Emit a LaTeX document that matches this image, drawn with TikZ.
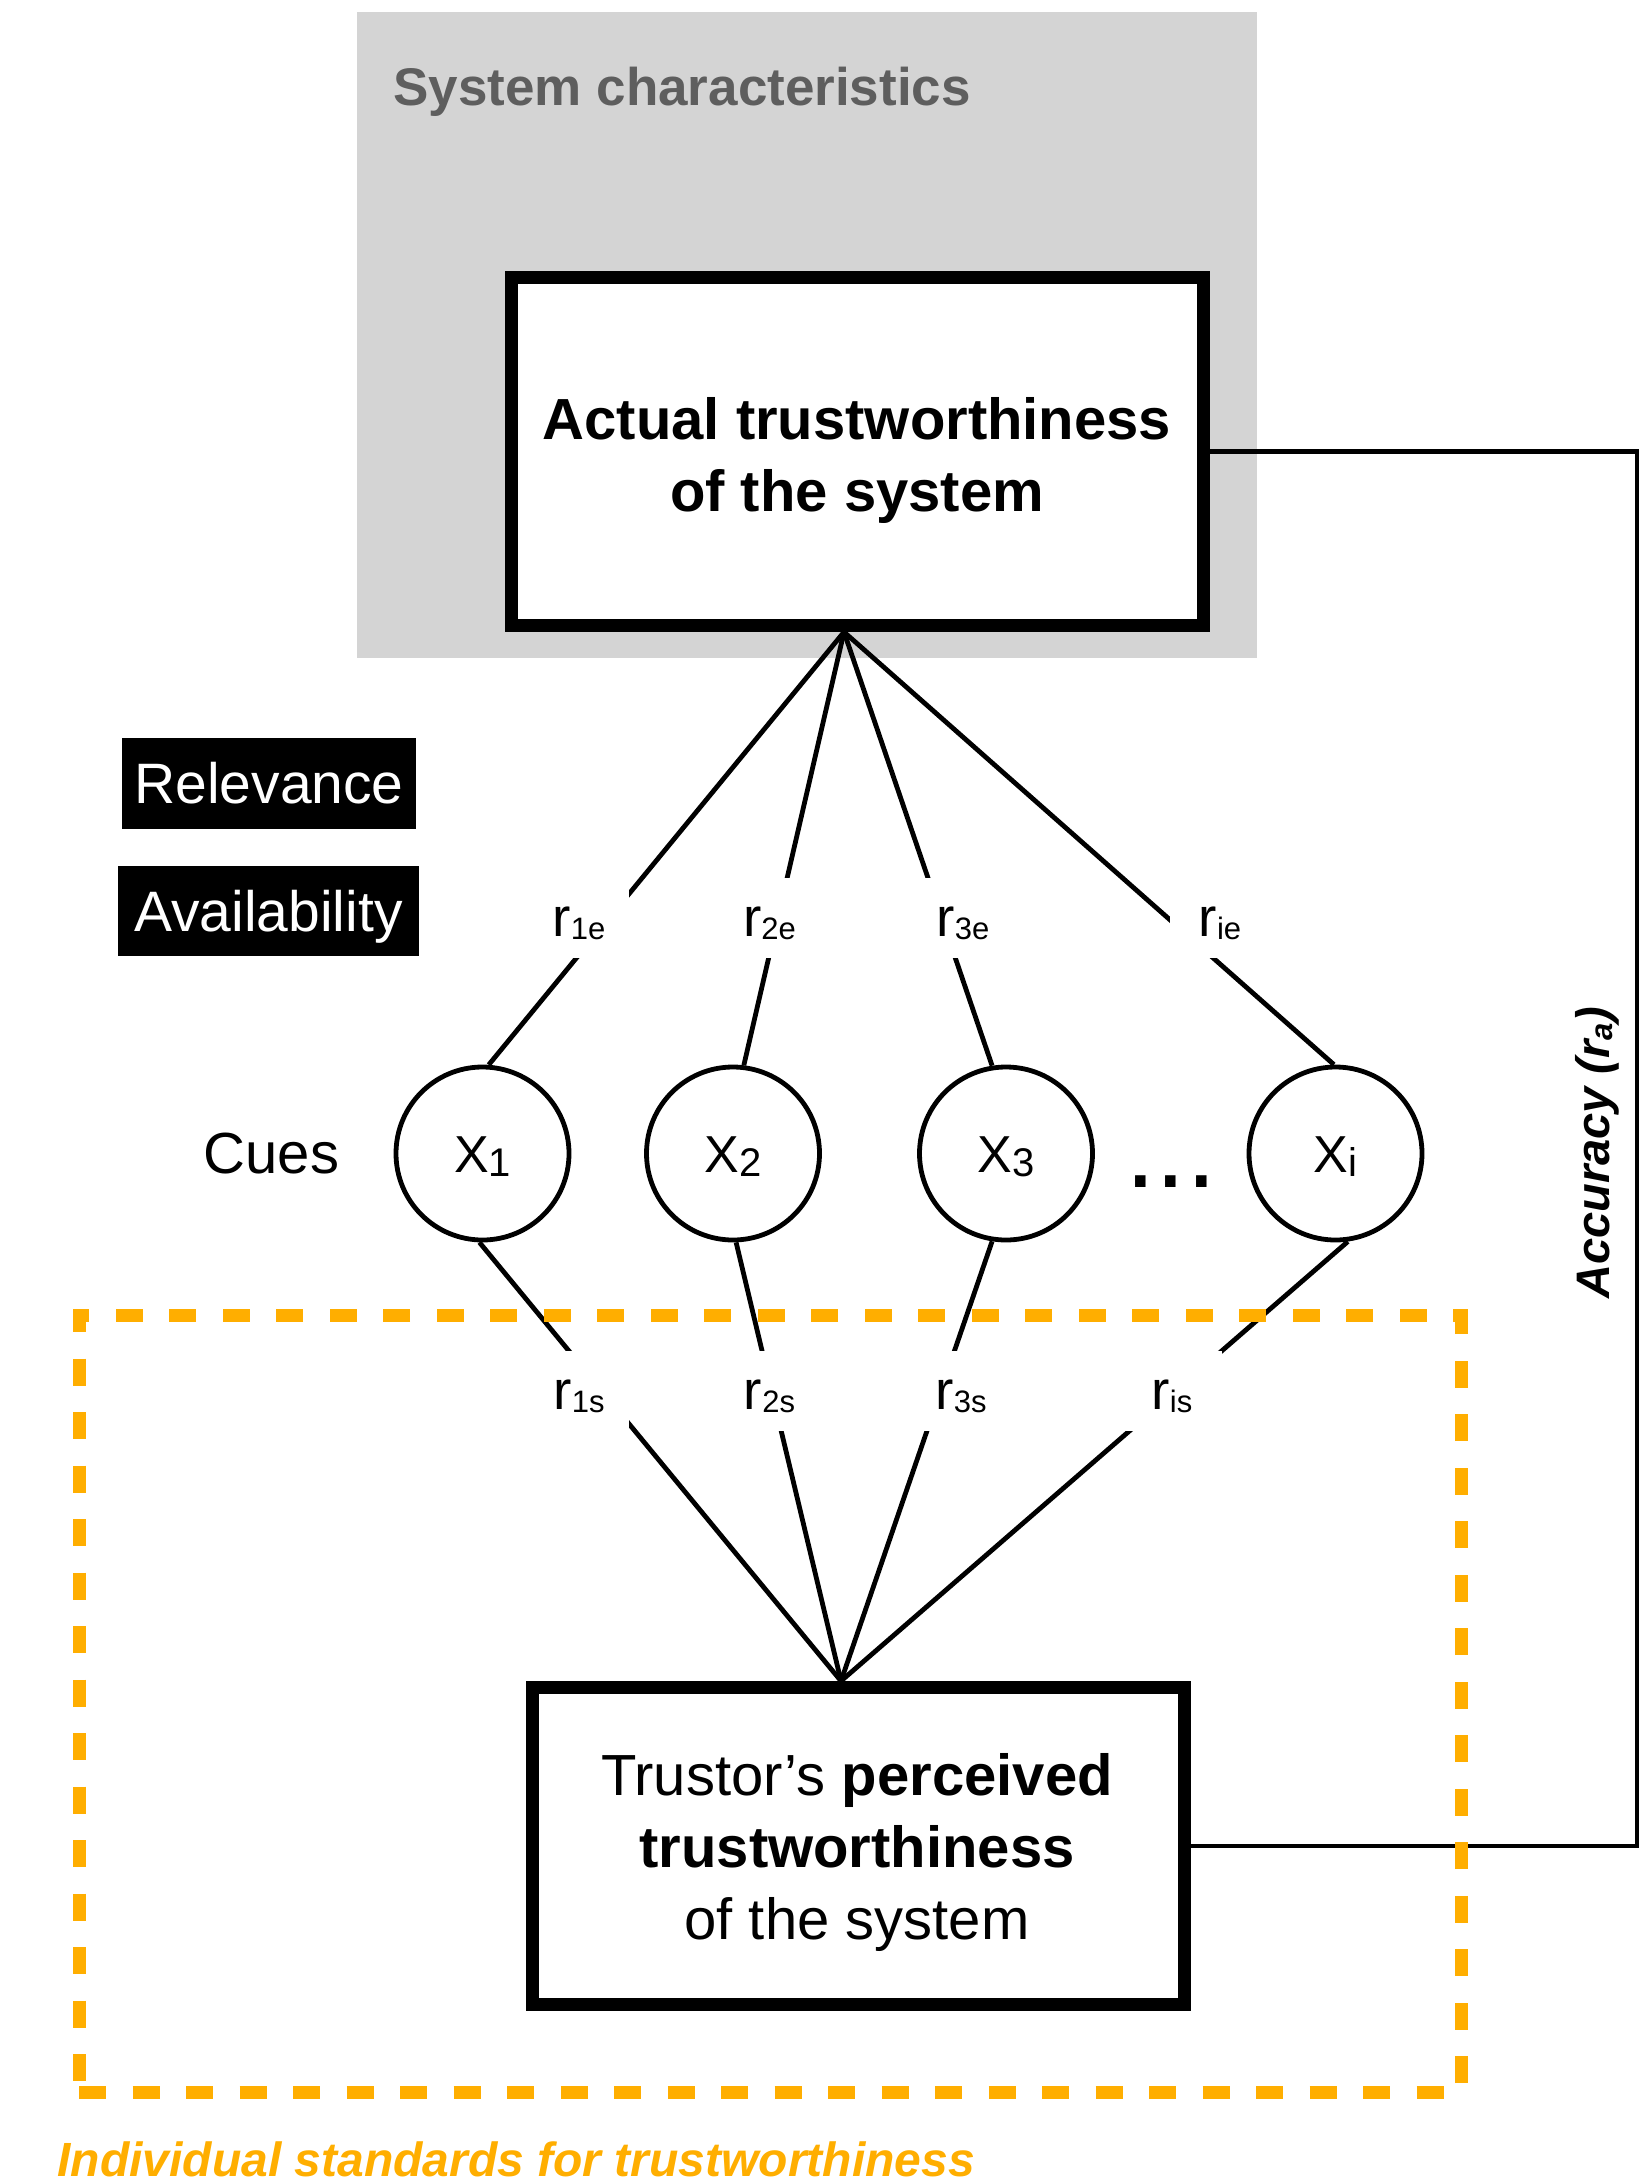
\documentclass[tikz,border=0pt]{standalone}
\usepackage{fontspec}
\setmainfont{Liberation Sans}
\definecolor{sysgrey}{RGB}{212,212,212}
\definecolor{systext}{RGB}{94,94,94}
\definecolor{stdorange}{RGB}{255,174,0}
\newcommand\rlabtext[2]{#1\raisebox{-1.5pt}{\fontsize{15.5}{16}\selectfont #2}}
\newcommand\cuetext[1]{X\raisebox{-2pt}{\fontsize{20}{21}\selectfont #1}}
\begin{document}
\begin{tikzpicture}[x=0.5pt,y=-0.5pt,
  bigbox/.style={draw=black, line width=6.5pt, fill=white, inner sep=0pt},
  cue/.style={circle, draw=black, line width=2.4pt, fill=white, minimum size=86.5pt,
    inner sep=0pt, font=\fontsize{26}{28}\selectfont, text height=18.6pt, text depth=0pt},
  tag/.style={fill=black, text=white, inner sep=0pt, text height=20.4pt, text depth=0pt,
    font=\fontsize{28.5}{30}\selectfont},
  rlab/.style={fill=white, inner sep=0pt, minimum width=50pt, text height=29pt,
    text depth=11pt, anchor=base, font=\fontsize{27.5}{30}\selectfont},
  conn/.style={draw=black, line width=2.4pt},
  accconn/.style={draw=black, line width=2.4pt},
  stdbox/.style={draw=stdorange, line width=6.5pt, dash pattern=on 13.5pt off 13.25pt,
    inner sep=0pt},
]
\useasboundingbox (0,0) rectangle (1650,2178);

% background region
\node[fill=sysgrey, inner sep=0pt, minimum width=450pt, minimum height=323pt] (sys) at (807,335) {};
\node[anchor=base west, inner sep=0pt, text=systext, font=\bfseries\fontsize{26.5}{28}\selectfont] (systitle) at (393,106) {System characteristics};

% main boxes
\node[bigbox, minimum width=346pt, minimum height=174pt] (A) at (857.5,451.5) {};
\node[align=center, inner sep=0pt, font=\bfseries\fontsize{29}{36}\selectfont] (Atext) at (857,461) {Actual trustworthiness\\of the system};

\node[bigbox, minimum width=326pt, minimum height=158.5pt] (P) at (858.5,1846) {};
\node[align=center, inner sep=0pt, font=\fontsize{29}{36}\selectfont] (Ptext) at (857,1852) {Trustor’s \textbf{perceived}\\\textbf{trustworthiness}\\of the system};

% tags
\node[tag, minimum width=147pt, minimum height=45.5pt] (rel) at (269,783) {Relevance};
\node[tag, minimum width=150.5pt, minimum height=45pt] (avail) at (268.5,911) {Availability};

% cues
\node[inner sep=0pt, font=\fontsize{29}{30}\selectfont, text height=20.7pt, text depth=0pt] (cues) at (271.5,1153) {Cues};
\node[cue] (X1) at (482.5,1153.5) {\cuetext{1}};
\node[cue] (X2) at (733,1153.5) {\cuetext{2}};
\node[cue] (X3) at (1006,1153.5) {\cuetext{3}};
\node[cue] (Xi) at (1335.5,1153.5) {\cuetext{i}};
\node[anchor=base, inner sep=0pt, font=\fontsize{55}{56}\selectfont] (dots) at (1171,1187) {...};

% connector end points on the boxes
\coordinate (Ta) at ([xshift=-6.75pt]A.south);
\coordinate (Pb) at ([xshift=-8.75pt]P.north);

% lines
\draw[conn] (Ta) -- (X1.86);
\draw[conn] (Ta) -- (X2.83);
\draw[conn] (Ta) -- (X3.99);
\draw[conn] (Ta) -- (Xi.91);
\draw[conn] (X1.268) -- (Pb);
\draw[conn] (X2.272) -- (Pb);
\draw[conn] (X3.261) -- (Pb);
\draw[conn] (Xi.278) -- (Pb);

% accuracy connector
\coordinate (rx) at (1637,451.5);
\draw[accconn] (A.east) -- (rx) |- (P.east);
\node[rotate=90, inner sep=0pt, font=\bfseries\itshape\fontsize{23.5}{26}\selectfont] (acc) at (1597,1153) {Accuracy (\rlabtext{r}{a})};

% individual standards region
\node[stdbox, minimum width=691pt, minimum height=388.5pt] (std) at (770,1703.5) {};
\node[anchor=base west, inner sep=0pt, text=stdorange, font=\bfseries\itshape\fontsize{24}{26}\selectfont] (stdtitle) at (57,2176) {Individual standards for trustworthiness};

% labels
\node[rlab] (l1e) at (579,936) {\rlabtext{r}{1e}};
\node[rlab] (l2e) at (769.5,936) {\rlabtext{r}{2e}};
\node[rlab] (l3e) at (963,936) {\rlabtext{r}{3e}};
\node[rlab] (lie) at (1220,936) {\rlabtext{r}{ie}};
\node[rlab] (l1s) at (579,1409) {\rlabtext{r}{1s}};
\node[rlab] (l2s) at (769.5,1409) {\rlabtext{r}{2s}};
\node[rlab] (l3s) at (961,1409) {\rlabtext{r}{3s}};
\node[rlab] (lis) at (1172,1409) {\rlabtext{r}{is}};
\end{tikzpicture}
\end{document}
